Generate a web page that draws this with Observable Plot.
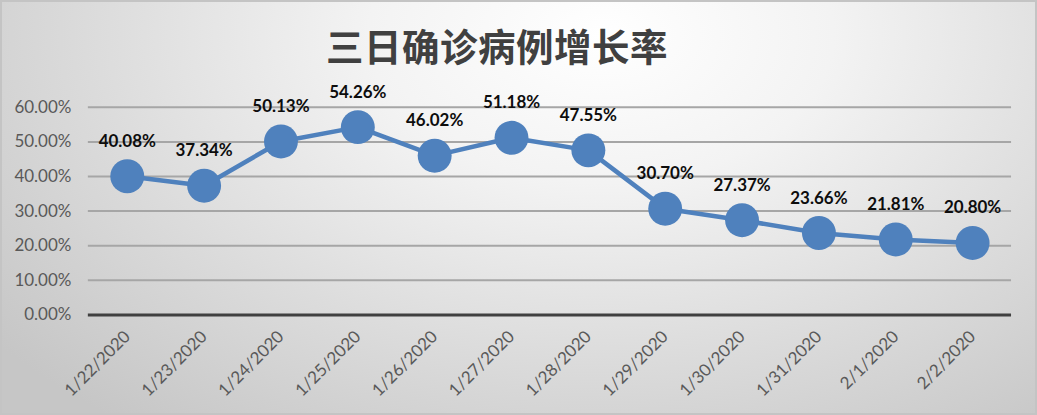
<!DOCTYPE html>
<html>
<head>
<meta charset="utf-8">
<script src="https://cdn.jsdelivr.net/npm/d3@7"></script>
<script src="https://cdn.jsdelivr.net/npm/@observablehq/plot@0.6"></script>
<style>
  html, body { margin: 0; padding: 0; background: #fff; }
  #wrap {
    position: relative; width: 1037px; height: 415px; overflow: hidden;
    box-sizing: border-box; border: 2px solid #c4c4c4;
    background: radial-gradient(ellipse 75% 120% at 58% 8%, #ffffff 0%, #f3f3f3 30%, #dcdcdc 65%, #c6c6c6 100%);
  }
  #title {
    position: absolute; left: 0; width: 990px; top: 20px; text-align: center;
    font-family: "Noto Sans CJK SC", sans-serif; font-weight: 700; font-size: 37.5px;
    color: #404040; line-height: 1.2; letter-spacing: 0.5px;
  }
  #chart { position: absolute; left: -2px; top: -2px; }
</style>
</head>
<body>
<div id="wrap">
  <div id="title">三日确诊病例增长率</div>
  <div id="chart"></div>
</div>
<script>
const dates = ["1/22/2020","1/23/2020","1/24/2020","1/25/2020","1/26/2020","1/27/2020","1/28/2020","1/29/2020","1/30/2020","1/31/2020","2/1/2020","2/2/2020"];
const rates = [0.4008,0.3734,0.5013,0.5426,0.4602,0.5118,0.4755,0.3070,0.2737,0.2366,0.2181,0.2080];
const yTicks = [0,0.1,0.2,0.3,0.4,0.5,0.6];

const data = dates.map((d, i) => ({date: d, rate: rates[i]}));
const fmt = d3.format(".2%");
const font = "Lato, 'Open Sans', sans-serif";

const chart = Plot.plot({
  width: 1037,
  height: 415,
  marginLeft: 88,
  marginRight: 24,
  marginTop: 107,
  marginBottom: 100,
  style: {background: "transparent", fontFamily: font, overflow: "visible"},
  x: {type: "point", domain: dates, padding: 0.5},
  y: {domain: [0, 0.6]},
  marks: [
    Plot.ruleY(yTicks.filter(d => d > 0), {stroke: "#a6a6a6", strokeWidth: 2}),
    Plot.ruleY([0], {stroke: "#404040", strokeWidth: 3}),
    Plot.axisY({ticks: yTicks, tickFormat: fmt, tickSize: 0, tickPadding: 17, fontSize: 17, fill: "#595959", label: null}),
    Plot.axisX({tickSize: 0, tickRotate: -45, tickPadding: 19, fontSize: 17, fill: "#595959", label: null}),
    Plot.line(data, {x: "date", y: "rate", stroke: "#4f81bd", strokeWidth: 4.5}),
    Plot.dot(data, {x: "date", y: "rate", r: 17, fill: "#4f81bd", stroke: "none"}),
    Plot.text(data, {x: "date", y: "rate", text: d => fmt(d.rate), dy: -35, fontSize: 17, fontWeight: "bold", fill: "#0d0d0d"})
  ]
});
document.getElementById("chart").appendChild(chart);
</script>
</body>
</html>
